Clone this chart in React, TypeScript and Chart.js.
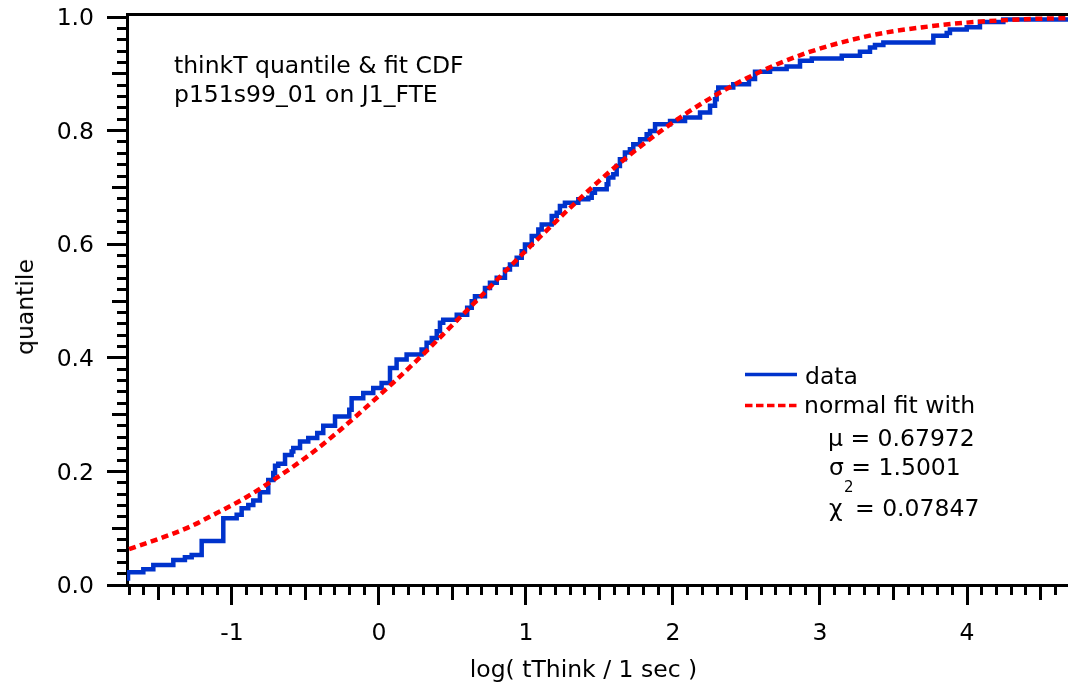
import React, { useEffect, useRef } from 'react';
import { Chart, registerables } from 'chart.js';

Chart.register(...registerables);

// Empirical quantile (step) data: level starts at dataX[i]
const dataX = [-1.707, -1.603, -1.535, -1.399, -1.320, -1.274, -1.206, -1.059, -0.968, -0.934, -0.889, -0.855, -0.810, -0.753, -0.719, -0.707, -0.685, -0.639, -0.594, -0.583, -0.537, -0.481, -0.420, -0.379, -0.299, -0.202, -0.186, -0.107, -0.039, 0.018, 0.075, 0.120, 0.188, 0.290, 0.324, 0.359, 0.393, 0.415, 0.437, 0.529, 0.600, 0.631, 0.653, 0.721, 0.755, 0.801, 0.857, 0.891, 0.937, 0.971, 0.993, 1.039, 1.084, 1.107, 1.175, 1.209, 1.231, 1.265, 1.356, 1.424, 1.447, 1.469, 1.549, 1.560, 1.594, 1.617, 1.639, 1.673, 1.707, 1.730, 1.776, 1.821, 1.844, 1.878, 1.980, 2.082, 2.184, 2.252, 2.286, 2.297, 2.308, 2.410, 2.517, 2.558, 2.660, 2.773, 2.864, 2.944, 3.148, 3.272, 3.340, 3.374, 3.431, 3.771, 3.862, 3.884, 3.998, 4.088, 4.247, 4.270, 4.687];
const dataY = [0.0076, 0.0223, 0.0276, 0.0353, 0.0441, 0.0488, 0.0529, 0.0776, 0.1176, 0.1235, 0.1352, 0.141, 0.1487, 0.1634, 0.185, 0.197, 0.2099, 0.2134, 0.229, 0.235, 0.241, 0.2527, 0.2587, 0.2675, 0.2804, 0.2968, 0.3086, 0.329, 0.338, 0.3469, 0.3557, 0.382, 0.397, 0.4056, 0.4145, 0.4263, 0.435, 0.4467, 0.4615, 0.467, 0.476, 0.488, 0.4997, 0.5085, 0.523, 0.532, 0.541, 0.5556, 0.5644, 0.5762, 0.5878, 0.5996, 0.6143, 0.6261, 0.6349, 0.6496, 0.6556, 0.6672, 0.673, 0.679, 0.682, 0.6908, 0.6966, 0.7055, 0.7173, 0.7231, 0.7378, 0.7496, 0.7614, 0.767, 0.776, 0.7848, 0.7937, 0.7995, 0.8113, 0.8171, 0.823, 0.832, 0.8436, 0.8554, 0.8672, 0.876, 0.8818, 0.8907, 0.9036, 0.9083, 0.913, 0.923, 0.927, 0.9318, 0.939, 0.9465, 0.9506, 0.955, 0.9672, 0.972, 0.978, 0.982, 0.9912, 0.9958, 0.9958];

// Normal fit CDF
const fitX = [-1.7, -1.5, -1.3, -1.1, -0.9, -0.7, -0.5, -0.3, -0.1, 0.1, 0.3, 0.5, 0.7, 0.9, 1.1, 1.3, 1.5, 1.7, 1.9, 2.1, 2.3, 2.5, 2.7, 2.9, 3.1, 3.3, 3.5, 3.7, 3.9, 4.1, 4.3, 4.5, 4.7];
const fitY = [0.063, 0.081, 0.101, 0.127, 0.155, 0.188, 0.224, 0.265, 0.310, 0.357, 0.406, 0.458, 0.510, 0.563, 0.614, 0.664, 0.712, 0.756, 0.796, 0.832, 0.864, 0.892, 0.916, 0.936, 0.952, 0.965, 0.975, 0.982, 0.988, 0.992, 0.995, 0.997, 0.998];

const xRange = [-1.714, 4.687];
const yRange = [0, 1.0053];

const FONT_FAMILY = "'DejaVu Sans', 'Liberation Sans', Arial, sans-serif";
const FONT_SIZE = 23.5;
const BLUE = '#0033cc';
const RED = '#ff0000';

const align3 = (p: number) => Math.round(p - 1.5) + 1.5;

const minorTicks = {
  id: 'minorTicks',
  afterDraw(chart: any) {
    const { ctx, chartArea, scales } = chart;
    const xs = scales.x;
    const ys = scales.y;
    ctx.save();
    ctx.strokeStyle = '#000';
    ctx.lineWidth = 3;
    ctx.lineCap = 'butt';
    for (let i = Math.ceil(xs.min * 10); i <= Math.floor(xs.max * 10); i++) {
      if (i % 10 === 0) continue;
      const len = Math.abs(i % 10) === 5 ? 15 : 10;
      const px = align3(xs.getPixelForValue(i / 10));
      ctx.beginPath();
      ctx.moveTo(px, chartArea.bottom);
      ctx.lineTo(px, chartArea.bottom + len);
      ctx.stroke();
    }
    for (let j = 1; j <= 50; j++) {
      if (j % 10 === 0) continue;
      const len = j % 5 === 0 ? 15 : 10;
      const py = align3(ys.getPixelForValue(j / 50));
      ctx.beginPath();
      ctx.moveTo(chartArea.left, py);
      ctx.lineTo(chartArea.left - len, py);
      ctx.stroke();
    }
    ctx.restore();
  },
};

const txt: React.CSSProperties = {
  position: 'absolute',
  fontFamily: FONT_FAMILY,
  fontSize: FONT_SIZE,
  lineHeight: '28px',
  color: '#000',
  whiteSpace: 'nowrap',
};

export default function App() {
  const ref = useRef<HTMLCanvasElement>(null);

  useEffect(() => {
    const font = { family: FONT_FAMILY, size: FONT_SIZE };
    const chart = new Chart(ref.current as HTMLCanvasElement, {
      type: 'scatter',
      data: {
        datasets: [
          {
            label: 'normal fit with',
            data: fitX.map((x, i) => ({ x, y: fitY[i] })),
            showLine: true,
            borderColor: RED,
            backgroundColor: RED,
            borderWidth: 4.5,
            borderDash: [7, 4.5],
            pointRadius: 0,
            cubicInterpolationMode: 'monotone',
            fill: false,
          },
          {
            label: 'data',
            data: dataX.map((x, i) => ({ x, y: dataY[i] })),
            showLine: true,
            stepped: 'after',
            borderColor: BLUE,
            backgroundColor: BLUE,
            borderWidth: 4.5,
            borderJoinStyle: 'miter',
            borderCapStyle: 'butt',
            pointRadius: 0,
            fill: false,
          },
        ],
      } as any,
      options: {
        responsive: false,
        animation: false,
        devicePixelRatio: 1,
        events: [],
        layout: { padding: { top: 14, right: 0, bottom: 0, left: 0 } },
        plugins: { legend: { display: false }, tooltip: { enabled: false } },
        scales: {
          x: {
            type: 'linear',
            position: 'bottom',
            min: xRange[0],
            max: xRange[1],
            afterFit: (s: any) => { s.height = 103; s.paddingLeft = 0; s.paddingRight = 0; },
            border: { display: true, color: '#000', width: 3 },
            grid: { drawOnChartArea: false, drawTicks: true, tickLength: 20, tickWidth: 3, tickColor: '#000' },
            ticks: {
              stepSize: 1,
              includeBounds: false,
              autoSkip: false,
              maxRotation: 0,
              color: '#000',
              font,
              padding: 14.5,
              callback: (v: any) => String(Math.round(Number(v))),
            },
          },
          xTop: {
            type: 'linear',
            position: 'top',
            min: xRange[0],
            max: xRange[1],
            afterFit: (s: any) => { s.height = 0; s.paddingLeft = 0; s.paddingRight = 0; },
            border: { display: true, color: '#000', width: 3 },
            grid: { drawOnChartArea: false, drawTicks: false },
            ticks: { display: false },
          },
          y: {
            type: 'linear',
            position: 'left',
            min: yRange[0],
            max: yRange[1],
            afterFit: (s: any) => { s.width = 127; s.paddingTop = 0; s.paddingBottom = 0; },
            border: { display: true, color: '#000', width: 3 },
            grid: { drawOnChartArea: false, drawTicks: true, tickLength: 20, tickWidth: 3, tickColor: '#000' },
            ticks: {
              stepSize: 0.2,
              includeBounds: false,
              autoSkip: false,
              color: '#000',
              font,
              padding: 13,
              labelOffset: 2,
              callback: (v: any) => Number(v).toFixed(1),
            },
          },
        },
      } as any,
      plugins: [minorTicks],
    });
    return () => chart.destroy();
  }, []);

  return (
    <div style={{ position: 'fixed', left: 0, top: 0, width: 1068, height: 688, background: '#fff', overflow: 'hidden' }}>
      <canvas ref={ref} width={1068} height={688} style={{ display: 'block', width: 1068, height: 688 }} />
      <div style={{ ...txt, left: 24.5, top: 307, transform: 'translate(-50%, -50%) rotate(-90deg)' }}>quantile</div>
      <div style={{ ...txt, left: 174, top: 51, lineHeight: '28.5px' }}>
        {'thinkT quantile & fit CDF'}
        <br />
        {'p151s99_01 on J1_FTE'}
      </div>
      <div style={{ ...txt, left: 583.5, top: 655, transform: 'translateX(-50%)' }}>{'log( tThink / 1 sec )'}</div>
      <svg width={1068} height={688} style={{ position: 'absolute', left: 0, top: 0, pointerEvents: 'none' }}>
        <line x1={745} y1={374.5} x2={797} y2={374.5} stroke={BLUE} strokeWidth={3.5} />
        <line x1={745} y1={405.5} x2={797} y2={405.5} stroke={RED} strokeWidth={3.5} strokeDasharray="7.5 3.5" />
      </svg>
      <div style={{ ...txt, left: 805, top: 361.5 }}>data</div>
      <div style={{ ...txt, left: 804, top: 391 }}>normal fit with</div>
      <div style={{ ...txt, left: 828, top: 424 }}>{'μ = 0.67972'}</div>
      <div style={{ ...txt, left: 829, top: 453 }}>{'σ = 1.5001'}</div>
      <div style={{ ...txt, left: 829, top: 494 }}>{'χ'}</div>
      <div style={{ ...txt, left: 844, top: 479, fontSize: 15, lineHeight: '17px' }}>2</div>
      <div style={{ ...txt, left: 855, top: 494 }}>{'= 0.07847'}</div>
    </div>
  );
}
